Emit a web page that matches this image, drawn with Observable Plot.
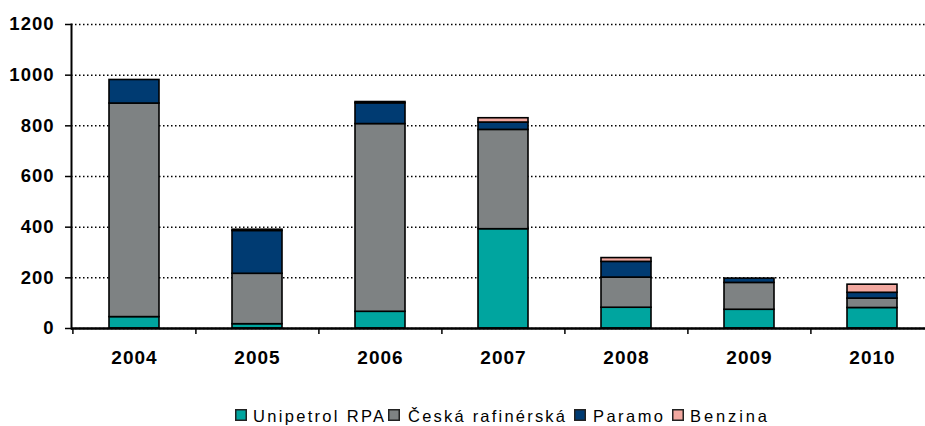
<!DOCTYPE html>
<html>
<head>
<meta charset="utf-8">
<script src="https://cdn.jsdelivr.net/npm/d3@7"></script>
<script src="https://cdn.jsdelivr.net/npm/@observablehq/plot@0.6"></script>
<style>
  body { margin: 0; background: #fff; font-family: "Liberation Sans", Arial, sans-serif; }
  #chart { position: relative; width: 925px; height: 426px; overflow: hidden; }
  #legend { position: absolute; left: 0; top: 390px; }
</style>
</head>
<body>
<div id="chart"></div>
<script>
const years = ["2004", "2005", "2006", "2007", "2008", "2009", "2010"];
const seriesNames = ["Unipetrol RPA", "Česká rafinérská", "Paramo", "Benzina"];
const colors = ["#00A59F", "#7E8283", "#003B72", "#F2A8A0"];
const unipetrol = [45, 17, 66, 392, 82, 74, 81];
const ceska = [843, 199, 741, 392, 119, 106, 37];
const paramo = [93, 169, 82, 29, 62, 17, 23];
const benzina = [0, 5, 5, 17, 15, 0, 32];
const yTicks = [0, 200, 400, 600, 800, 1000, 1200];

const seriesValues = [unipetrol, ceska, paramo, benzina];
const data = [];
seriesNames.forEach((s, i) => years.forEach((y, j) => data.push({year: y, series: s, value: seriesValues[i][j]})));

const chart = Plot.plot({
  width: 925,
  height: 390,
  marginTop: 24,
  marginBottom: 62,
  marginLeft: 71,
  marginRight: 0,
  style: {fontFamily: "'Liberation Sans', Arial, sans-serif", color: "#000", overflow: "visible"},
  x: {domain: years, range: [71, 934], paddingInner: 0.595, paddingOuter: 0.2975, align: 0.5},
  y: {domain: [0, 1200]},
  color: {domain: seriesNames, range: colors},
  marks: [
    Plot.gridY(yTicks, {stroke: "#000", strokeOpacity: 1, strokeWidth: 1.5, strokeDasharray: "1.5,2.5"}),
    Plot.barY(data, {x: "year", y: "value", fill: "series", stroke: "#000", strokeWidth: 1.6, order: seriesNames}),
    Plot.frame({anchor: "left", stroke: "#000", strokeWidth: 2}),
    Plot.axisY(yTicks, {tickSize: 6, tickPadding: 11, fontSize: 18.5, fontWeight: "bold", stroke: "#000", strokeWidth: 1.5, tickFormat: d => String(d), label: null}),
    Plot.ruleY([0], {stroke: "#000", strokeWidth: 2.5}),
    Plot.axisX(years, {tickSize: 6, text: null, dx: -61.6, stroke: "#000", strokeWidth: 1.5, label: null}),
    Plot.axisX(years, {tickSize: 0, tickPadding: 22, fontSize: 19, fontWeight: "bold", label: null})
  ]
});
chart.querySelectorAll('g[aria-label="y-axis tick label"] text, g[aria-label="x-axis tick label"] text').forEach(t => t.setAttribute("letter-spacing", "1"));
document.getElementById("chart").appendChild(chart);

// Legend (below the plot SVG)
const swatchX = [235, 388, 574, 672];
const textX = [253, 408, 593, 690];
const textW = [131, 157, 70, 77];
const svgNS = "http://www.w3.org/2000/svg";
const leg = document.createElementNS(svgNS, "svg");
leg.setAttribute("id", "legend");
leg.setAttribute("width", 925);
leg.setAttribute("height", 36);
seriesNames.forEach((s, i) => {
  const r = document.createElementNS(svgNS, "rect");
  r.setAttribute("x", swatchX[i] + 0.75);
  r.setAttribute("y", 19.75);
  r.setAttribute("width", 10.5);
  r.setAttribute("height", 10.5);
  r.setAttribute("fill", colors[i]);
  r.setAttribute("stroke", "#222");
  r.setAttribute("stroke-width", 1.5);
  leg.appendChild(r);
  const t = document.createElementNS(svgNS, "text");
  t.setAttribute("x", textX[i]);
  t.setAttribute("y", 31.5);
  t.setAttribute("font-size", 16.5);
  t.setAttribute("font-family", "'Liberation Sans', Arial, sans-serif");
  t.setAttribute("fill", "#000");
  t.setAttribute("textLength", textW[i]);
  t.setAttribute("lengthAdjust", "spacing");
  t.textContent = s;
  leg.appendChild(t);
});
document.getElementById("chart").appendChild(leg);
</script>
</body>
</html>
